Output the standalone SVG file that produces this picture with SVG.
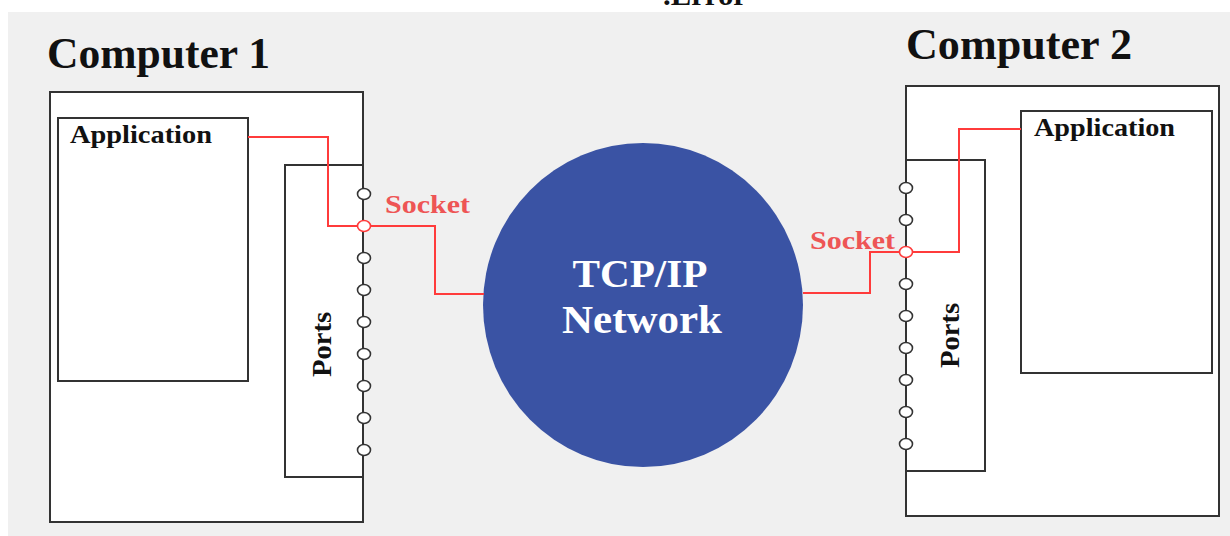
<svg xmlns="http://www.w3.org/2000/svg" width="1230" height="536" viewBox="0 0 1230 536">
<style>
.box{fill:#fff;stroke:#333;stroke-width:2}
.lbl{font-family:"Liberation Serif","Times New Roman",serif;font-weight:bold;fill:#111}
.sock{font-family:"Liberation Serif","Times New Roman",serif;font-weight:bold;fill:#ee5555;font-size:25px}
.wire{fill:none;stroke:#ff3b3b;stroke-width:2}
.port{fill:#fff;stroke:#333;stroke-width:1.6}
.sport{fill:#fff;stroke:#ff3b3b;stroke-width:1.6}
</style>
<defs>
<ellipse id="p" rx="6.5" ry="5.5"/>
</defs>
<rect x="0" y="0" width="1230" height="536" fill="#fff"/>
<rect x="8" y="12" width="1222" height="524" fill="#f0f0f0"/>
<text class="lbl" x="663" y="5" font-size="30" textLength="84" lengthAdjust="spacingAndGlyphs">.Error</text>

<g id="computer1">
<text class="lbl" x="47" y="68" font-size="44" textLength="223" lengthAdjust="spacingAndGlyphs">Computer 1</text>
<rect class="box" x="50" y="92" width="313" height="430"/>
</g>
<g id="application1">
<rect class="box" x="58" y="118" width="190" height="263"/>
<text class="lbl" x="70" y="143" font-size="25" textLength="142" lengthAdjust="spacingAndGlyphs">Application</text>
</g>
<g id="ports1">
<rect class="box" x="285" y="165" width="78" height="312"/>
<text class="lbl" transform="translate(331,377) rotate(-90)" font-size="27" textLength="65" lengthAdjust="spacingAndGlyphs">Ports</text>
</g>

<g id="computer2">
<text class="lbl" x="906" y="59" font-size="44" textLength="226" lengthAdjust="spacingAndGlyphs">Computer 2</text>
<rect class="box" x="906" y="86" width="313" height="430"/>
</g>
<g id="application2">
<rect class="box" x="1021" y="111" width="191" height="262"/>
<text class="lbl" x="1034" y="136" font-size="25" textLength="141" lengthAdjust="spacingAndGlyphs">Application</text>
</g>
<g id="ports2">
<rect class="box" x="906" y="160" width="79" height="311"/>
<text class="lbl" transform="translate(959,368) rotate(-90)" font-size="27" textLength="65" lengthAdjust="spacingAndGlyphs">Ports</text>
</g>

<g id="network">
<ellipse cx="643" cy="305" rx="160" ry="162" fill="#3a53a4"/>
<text x="640" y="287" text-anchor="middle" font-family="Liberation Serif, Times New Roman, serif" font-weight="bold" font-size="41" fill="#fff" textLength="135" lengthAdjust="spacingAndGlyphs">TCP/IP</text>
<text x="642" y="333" text-anchor="middle" font-family="Liberation Serif, Times New Roman, serif" font-weight="bold" font-size="41" fill="#fff" textLength="160" lengthAdjust="spacingAndGlyphs">Network</text>
</g>

<g id="connectors">
<path class="wire" d="M248,137 H328 V226 H365 M365,226 H435 V294 H484"/>
<path class="wire" d="M1021,129 H959 V252 H906 M906,252 H870 V293 H803"/>
</g>

<g id="sockets1">
<use href="#p" class="port" x="364" y="194"/>
<use href="#p" class="sport" x="364" y="226"/>
<use href="#p" class="port" x="364" y="258"/>
<use href="#p" class="port" x="364" y="290"/>
<use href="#p" class="port" x="364" y="322"/>
<use href="#p" class="port" x="364" y="354"/>
<use href="#p" class="port" x="364" y="386"/>
<use href="#p" class="port" x="364" y="418"/>
<use href="#p" class="port" x="364" y="450"/>
<text class="sock" x="385" y="213" textLength="85" lengthAdjust="spacingAndGlyphs">Socket</text>
</g>
<g id="sockets2">
<use href="#p" class="port" x="906" y="188"/>
<use href="#p" class="port" x="906" y="220"/>
<use href="#p" class="sport" x="906" y="252"/>
<use href="#p" class="port" x="906" y="284"/>
<use href="#p" class="port" x="906" y="316"/>
<use href="#p" class="port" x="906" y="348"/>
<use href="#p" class="port" x="906" y="380"/>
<use href="#p" class="port" x="906" y="412"/>
<use href="#p" class="port" x="906" y="444"/>
<text class="sock" x="810" y="249" textLength="85" lengthAdjust="spacingAndGlyphs">Socket</text>
</g>
</svg>
